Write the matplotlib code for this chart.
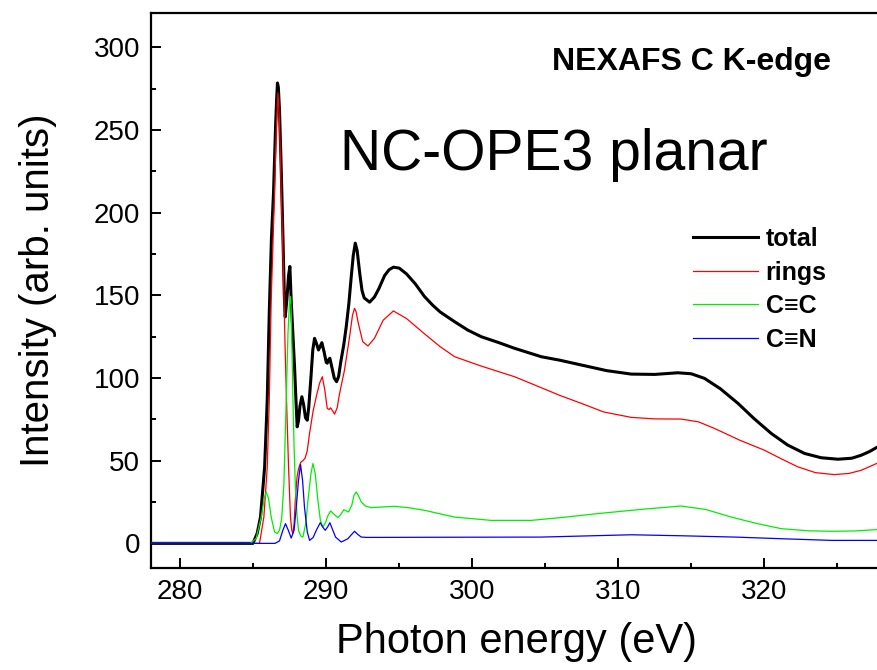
import numpy as np
import matplotlib
matplotlib.use("Agg")
import matplotlib.pyplot as plt
from matplotlib.ticker import MultipleLocator

plt.rcParams['font.family'] = ['Liberation Sans', 'DejaVu Sans']

# values (energy in eV, intensity in arb. units)
total_e = [278.0, 284.98, 285.27, 285.5, 285.78, 285.96, 286.1, 286.25, 286.39, 286.53, 286.6,
           286.66, 286.72, 286.8, 286.9, 286.96, 287.05, 287.13, 287.19, 287.3, 287.42, 287.51,
           287.6, 287.72, 287.83, 287.93, 288.01, 288.1, 288.2, 288.33, 288.45, 288.58, 288.7,
           288.8, 288.95, 289.08, 289.2, 289.33, 289.47, 289.58, 289.7, 289.85, 290.0, 290.07,
           290.16, 290.25, 290.4, 290.55, 290.71, 290.85, 291.0, 291.2, 291.37, 291.55, 291.7,
           291.85, 291.99, 292.12, 292.3, 292.45, 292.6, 292.97, 293.3, 293.6, 294.0, 294.3,
           294.61, 295.0, 295.5, 296.1, 296.73, 297.3, 297.8, 298.79, 299.7, 300.62, 301.8,
           302.9, 304.73, 306.0, 307.47, 309.2, 310.89, 312.5, 314.09, 315.0, 315.91, 317.0,
           318.2, 319.3, 320.48, 321.6, 322.76, 323.9, 325.05, 326.0, 326.64, 327.2, 328.0]
total_i = [0.0, 0.0, 6.0, 16.0, 46.0, 86.7, 140.0, 185.0, 212.0, 252.0, 268.0,
           278.5, 276.0, 262.0, 232.0, 212.0, 180.0, 150.0, 137.0, 147.0, 162.0, 167.5,
           147.0, 126.0, 106.9, 86.0, 70.5, 74.0, 83.0, 88.7, 84.0, 76.0, 74.5,
           82.0, 100.0, 117.0, 124.0, 121.0, 117.0, 119.0, 121.4, 116.0, 109.5, 109.0,
           111.0, 112.0, 106.0, 100.0, 97.8, 101.0, 110.0, 120.0, 131.0, 145.0, 160.0,
           174.0, 181.6, 177.0, 163.0, 153.0, 148.5, 145.9, 149.0, 154.0, 162.0, 165.5,
           167.1, 166.5, 163.0, 157.0, 149.3, 144.0, 140.0, 134.1, 129.0, 125.0, 121.5,
           118.0, 112.9, 110.8, 107.9, 104.5, 102.4, 102.2, 103.2, 102.6, 99.8, 93.5,
           84.7, 75.5, 66.5, 59.5, 54.4, 51.8, 50.9, 51.5, 53.3, 55.5, 59.5]

rings_e = [278.0, 285.43, 285.73, 285.96, 286.1, 286.23, 286.46, 286.58, 286.69, 286.8, 286.92,
           287.08, 287.18, 287.28, 287.42, 287.55, 287.64, 287.72, 287.8, 287.88, 288.0,
           288.1, 288.25, 288.4, 288.55, 288.7, 288.85, 289.1, 289.35, 289.55, 289.73, 289.9,
           290.07, 290.2, 290.3, 290.45, 290.57, 290.75, 290.9, 291.25, 291.6, 291.8, 291.94,
           292.05, 292.2, 292.5, 292.86, 293.3, 293.9, 294.6, 295.5, 296.7, 297.8, 298.8, 300.6,
           302.9, 304.5, 306.0, 307.47, 309.0, 310.9, 312.5, 314.3, 315.5, 316.6, 318.3, 320.0,
           321.2, 322.3, 323.5, 324.8, 325.8, 326.64, 328.0]
rings_i = [0.0, 0.0, 16.0, 46.0, 87.0, 147.0, 212.0, 250.0, 272.5, 255.0, 212.0,
           160.0, 120.0, 86.7, 46.0, 16.0, 8.0, 5.9, 12.0, 26.0, 40.0,
           45.0, 49.0, 50.0, 51.5, 56.0, 66.0, 80.0, 90.0, 97.0, 100.8, 93.0,
           81.6, 81.0, 82.0, 80.0, 78.2, 82.0, 90.0, 104.8, 125.0, 138.0, 142.2,
           140.0, 133.0, 122.0, 119.4, 124.0, 135.0, 140.6, 136.0, 127.0, 119.0, 112.9, 107.3,
           100.8, 95.0, 89.5, 84.7, 79.5, 76.2, 75.3, 75.2, 73.5, 69.5, 62.5, 56.4,
           51.0, 46.3, 42.8, 41.6, 42.3, 44.2, 49.5]

cc_e = [278.0, 284.8, 285.2, 285.55, 285.75, 285.89, 286.05, 286.23, 286.46, 286.65, 286.8,
        286.95, 287.1, 287.26, 287.38, 287.48, 287.56, 287.6, 287.66, 287.72, 287.8, 287.88,
        288.0, 288.1, 288.25, 288.4, 288.6, 288.75, 288.95, 289.09, 289.25, 289.43, 289.6,
        289.77, 289.95, 290.1, 290.3, 290.55, 290.8, 291.0, 291.21, 291.4, 291.53, 291.75,
        291.9, 292.05, 292.2, 292.4, 292.7, 293.08, 293.8, 294.68, 295.7, 296.73, 298.79,
        301.3, 304.04, 306.3, 308.6, 311.5, 314.3, 316.0, 317.7, 319.5, 321.16, 323.0, 324.6,
        326.2, 328.0]
cc_i = [0.0, 0.0, 3.0, 16.0, 27.0, 31.1, 27.0, 16.0, 6.9, 6.0, 7.9,
        15.0, 36.0, 86.7, 127.0, 145.0, 149.3, 140.0, 115.0, 86.7, 58.0, 36.0,
        17.0, 7.9, 4.5, 3.8, 12.0, 26.0, 42.0, 48.3, 42.0, 26.0, 14.0,
        9.9, 12.5, 16.5, 19.6, 17.5, 15.6, 17.5, 20.4, 19.5, 19.0, 23.0,
        29.0, 31.1, 29.0, 25.0, 22.5, 21.6, 22.0, 22.4, 21.5, 20.0, 15.9,
        13.9, 13.9, 15.8, 18.0, 20.5, 22.6, 20.5, 16.0, 12.0, 8.9, 7.6, 7.3,
        7.5, 8.5]

cn_e = [278.0, 286.5, 286.8, 287.03, 287.21, 287.4, 287.6, 287.8, 287.95, 288.1, 288.24,
        288.38, 288.51, 288.7, 288.86, 289.1, 289.32, 289.59, 289.75, 289.93, 290.1, 290.25,
        290.45, 290.64, 291.03, 291.48, 291.75, 291.94, 292.15, 292.4, 292.8, 298.0, 304.7,
        310.9, 314.3, 318.0, 321.2, 324.6, 328.0]
cn_i = [0.0, 0.0, 1.5, 7.9, 11.9, 8.0, 3.2, 8.0, 22.0, 38.0, 47.7,
        38.0, 22.0, 7.0, 1.8, 3.5, 7.9, 12.5, 10.0, 7.9, 10.0, 12.5,
        8.0, 3.8, 0.8, 2.8, 5.5, 7.3, 5.5, 3.8, 3.6, 3.7, 3.8,
        5.2, 4.6, 3.8, 2.8, 1.8, 1.8]

fig = plt.figure(figsize=(8.77, 6.7), dpi=100)
ax = fig.add_axes([0.1722, 0.152, 0.8324, 0.829])

ax.plot(total_e, total_i, color='black', lw=2.2, label='total', zorder=2)
ax.plot(rings_e, rings_i, color='#ff0000', lw=0.9, label='rings', zorder=3)
ax.plot(cc_e, cc_i, color='#00ee00', lw=0.9, label='C≡C', zorder=4)
ax.plot(cn_e, cn_i, color='#0000ff', lw=0.9, label='C≡N', zorder=5)

ax.set_xlim(278, 328)
ax.set_ylim(-15, 321)
ax.xaxis.set_major_locator(MultipleLocator(10))
ax.xaxis.set_minor_locator(MultipleLocator(5))
ax.yaxis.set_major_locator(MultipleLocator(50))
ax.yaxis.set_minor_locator(MultipleLocator(25))
ax.tick_params(which='both', direction='in', width=1.4, labelsize=20, pad=8)
ax.tick_params(which='major', length=7)
ax.tick_params(which='minor', length=3.5)
for s in ['left', 'bottom', 'top']:
    ax.spines[s].set_linewidth(1.6)
ax.spines['right'].set_visible(False)

ax.set_xlabel('Photon energy (eV)', fontsize=30, labelpad=12)
ax.set_ylabel('Intensity (arb. units)', fontsize=29, labelpad=26)

ax.text(0.74, 0.912, 'NEXAFS C K-edge', transform=ax.transAxes, fontsize=23,
        fontweight='bold', ha='center', va='center')
ax.text(0.552, 0.744, 'NC-OPE3 planar', transform=ax.transAxes, fontsize=41,
        ha='center', va='center')

leg = ax.legend(loc='upper left', bbox_to_anchor=(0.729, 0.632), frameon=False,
                prop={'size': 18, 'weight': 'bold'}, handlelength=2.6,
                handletextpad=0.3, labelspacing=0.38, borderaxespad=0)

fig.savefig('out.png', dpi=100)
